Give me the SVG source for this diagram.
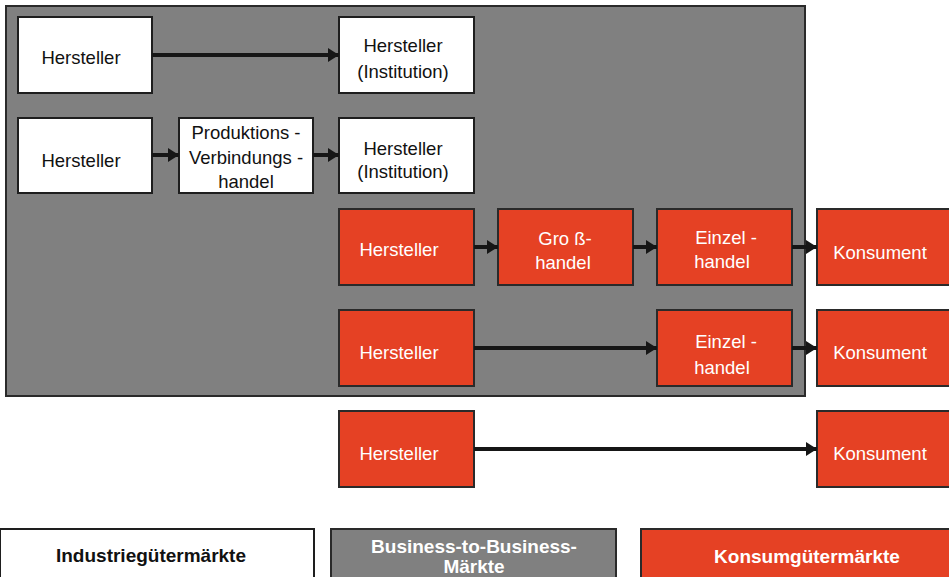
<svg xmlns="http://www.w3.org/2000/svg" width="949" height="577" viewBox="0 0 949 577">
<style>
.w{fill:#ffffff;stroke:#1e1e1e;stroke-width:2}
.r{fill:#e54124;stroke:#2a2a2a;stroke-width:2}
.g{fill:#808080;stroke:#2a2a2a;stroke-width:2}
text{font-family:"Liberation Sans",Arial,sans-serif;font-size:18.5px;text-anchor:middle;dominant-baseline:central}
.wt{fill:#ffffff}
.bt{fill:#111111}
.lg{font-weight:bold;font-size:19px}
.c{stroke:#161616;stroke-width:4;fill:none;marker-end:url(#ah)}
</style>
<defs>
<marker id="ah" markerUnits="userSpaceOnUse" markerWidth="12" markerHeight="14" refX="11" refY="7" orient="auto">
<path d="M0,0 L11,7 L0,14 Z" fill="#161616"/>
</marker>
</defs>
<rect class="g" x="6" y="6" width="799" height="390"/>
<g id="n1"><rect class="w" x="18" y="17" width="134" height="76"/><text class="bt" x="81" y="57">Hersteller</text></g>
<g id="n2"><rect class="w" x="339" y="17" width="135" height="76"/><text class="bt" x="403" y="45">Hersteller</text><text class="bt" x="403" y="71">(Institution)</text></g>
<g id="n3"><rect class="w" x="18" y="118" width="134" height="75"/><text class="bt" x="81" y="160">Hersteller</text></g>
<g id="n4"><rect class="w" x="179" y="118" width="134" height="75"/><text class="bt" x="246" y="132">Produktions -</text><text class="bt" x="246" y="157">Verbindungs -</text><text class="bt" x="246" y="181">handel</text></g>
<g id="n5"><rect class="w" x="339" y="118" width="135" height="75"/><text class="bt" x="403" y="148">Hersteller</text><text class="bt" x="403" y="171">(Institution)</text></g>
<g id="n6"><rect class="r" x="339" y="209" width="135" height="76"/><text class="wt" x="399" y="249">Hersteller</text></g>
<g id="n7"><rect class="r" x="498" y="209" width="135" height="76"/><text class="wt" x="565" y="238">Gro ß-</text><text class="wt" x="563" y="262">handel</text></g>
<g id="n8"><rect class="r" x="657" y="209" width="135" height="76"/><text class="wt" x="726" y="237">Einzel -</text><text class="wt" x="722" y="261">handel</text></g>
<g id="n9"><rect class="r" x="817" y="209" width="140" height="76"/><text class="wt" x="880" y="252">Konsument</text></g>
<g id="n10"><rect class="r" x="339" y="310" width="135" height="76"/><text class="wt" x="399" y="352">Hersteller</text></g>
<g id="n11"><rect class="r" x="657" y="310" width="135" height="76"/><text class="wt" x="726" y="341">Einzel -</text><text class="wt" x="722" y="367">handel</text></g>
<g id="n12"><rect class="r" x="817" y="310" width="140" height="76"/><text class="wt" x="880" y="352">Konsument</text></g>
<g id="n13"><rect class="r" x="339" y="411" width="135" height="76"/><text class="wt" x="399" y="453">Hersteller</text></g>
<g id="n14"><rect class="r" x="817" y="411" width="140" height="76"/><text class="wt" x="880" y="453">Konsument</text></g>
<g id="connectors">
<line class="c" x1="152" y1="55" x2="339" y2="55"/>
<line class="c" x1="152" y1="155" x2="179" y2="155"/>
<line class="c" x1="313" y1="155" x2="339" y2="155"/>
<line class="c" x1="474" y1="247" x2="498" y2="247"/>
<line class="c" x1="633" y1="247" x2="657" y2="247"/>
<line class="c" x1="792" y1="247" x2="817" y2="247"/>
<line class="c" x1="474" y1="348" x2="657" y2="348"/>
<line class="c" x1="792" y1="348" x2="817" y2="348"/>
<line class="c" x1="474" y1="449" x2="817" y2="449"/>
</g>
<g id="legend1"><rect class="w" x="0" y="529" width="314" height="52"/><text class="bt lg" x="151" y="555">Industriegütermärkte</text></g>
<g id="legend2"><rect class="g" x="331" y="529" width="285" height="52"/><text class="wt lg" x="474" y="546">Business-to-Business-</text><text class="wt lg" x="474" y="566">Märkte</text></g>
<g id="legend3"><rect class="r" x="641" y="529" width="315" height="52"/><text class="wt lg" x="807" y="556">Konsumgütermärkte</text></g>
</svg>
